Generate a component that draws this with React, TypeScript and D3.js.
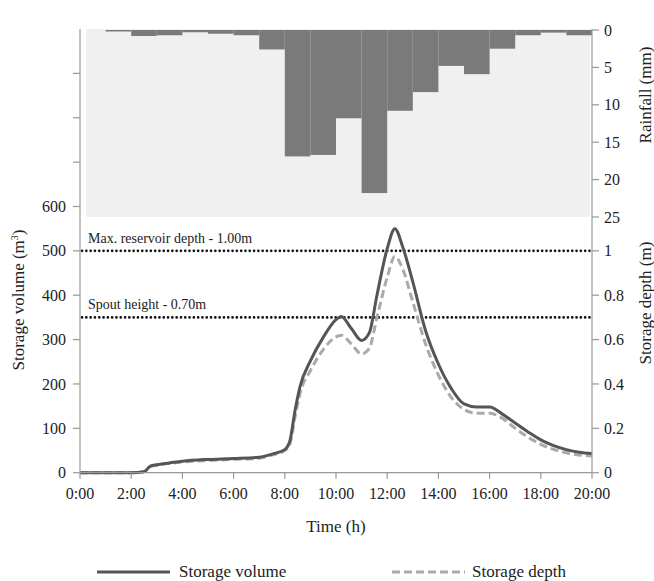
import React from 'react';
import * as d3 from 'd3';

// hourly rainfall (mm), bar i covers hour i..i+1
const rainHours = d3.range(0, 20);
const rainfall = [0, 0.2, 0.8, 0.7, 0.3, 0.5, 0.7, 2.6, 16.9, 16.7, 11.8, 21.8, 10.8, 8.3, 4.8, 5.9, 2.5, 0.7, 0.35, 0.7];

// time (h) of the hydrograph points
const times = [0, 0.5, 1, 1.5, 2, 2.5, 2.75, 3, 3.5, 4, 5, 6, 7, 7.5, 8, 8.2, 8.4, 8.6, 9, 9.5, 10, 10.2, 10.6, 11, 11.3, 11.6, 12, 12.3, 12.6, 13, 13.5, 14, 14.5, 15, 15.5, 16, 16.5, 17, 17.5, 18, 18.5, 19, 19.5, 20];
const volume = [0, 0, 0, 0, 0, 2, 15, 18, 22, 26, 30, 32, 35, 42, 52, 72, 140, 195, 252, 305, 345, 352, 325, 298, 315, 400, 505, 550, 510, 430, 320, 245, 190, 155, 148, 148, 132, 112, 92, 74, 61, 52, 46, 43];
const depth = [0, 0, 0, 0, 0, 0.004, 0.028, 0.034, 0.042, 0.048, 0.055, 0.06, 0.065, 0.08, 0.1, 0.13, 0.25, 0.36, 0.46, 0.555, 0.612, 0.62, 0.58, 0.535, 0.56, 0.7, 0.88, 0.975, 0.92, 0.77, 0.58, 0.44, 0.34, 0.285, 0.268, 0.268, 0.245, 0.2, 0.16, 0.128, 0.105, 0.09, 0.08, 0.075];

const timeTicks = d3.range(0, 21, 2);
const volTicks = [0, 100, 200, 300, 400, 500, 600];
const depthTicks = [0, 0.2, 0.4, 0.6, 0.8, 1];
const rainTicks = [0, 5, 10, 15, 20, 25];
const refLines = [
  { v: 500, label: 'Max. reservoir depth - 1.00m' },
  { v: 350, label: 'Spout height - 0.70m' },
];

const font = "'Liberation Serif', 'DejaVu Serif', serif";

function App() {
  const W = 654, H = 581;
  const left = 80, right = 592, top = 29, bottom = 472.7;
  const x = d3.scaleLinear().domain([0, 20]).range([left, right]);
  const yVol = d3.scaleLinear().domain([0, 1000]).range([bottom, top]);
  const yDepth = d3.scaleLinear().domain([0, 2]).range([bottom, top]);
  const yRain = d3.scaleLinear().domain([0, 25]).range([30, 217]);

  const volLine = d3.line<number>()
    .x((d, i) => x(times[i]))
    .y(d => yVol(d))
    .curve(d3.curveMonotoneX);
  const depthLine = d3.line<number>()
    .x((d, i) => x(times[i]))
    .y(d => yDepth(d))
    .curve(d3.curveMonotoneX);

  return (
    <div>
      <style>{`body{margin:0}`}</style>
      <svg width={W} height={H} style={{ display: 'block', background: '#fff', fontFamily: font }}>
        {/* rainfall panel */}
        <rect x={86} y={top} width={590 - 86} height={217 - top} fill="#f0f0f0" />
        {rainfall.map((r, i) => (
          <rect key={i} x={x(rainHours[i])} y={yRain(0)} width={x(rainHours[i] + 1) - x(rainHours[i])}
            height={yRain(r) - yRain(0)} fill="#7a7a7a" />
        ))}

        {/* reference lines */}
        {refLines.map(l => (
          <g key={l.v}>
            <line x1={left + 2} x2={right} y1={yVol(l.v)} y2={yVol(l.v)} stroke="#111" strokeWidth={2.6}
              strokeDasharray="0.1 4.2" strokeLinecap="round" />
            <text x={88} y={yVol(l.v) - 8} fontSize={14} fill="#222">{l.label}</text>
          </g>
        ))}

        {/* series */}
        <path d={depthLine(depth) || ''} fill="none" stroke="#aaaaaa" strokeWidth={3} strokeDasharray="8 4" />
        <path d={volLine(volume) || ''} fill="none" stroke="#555555" strokeWidth={3} />

        {/* left axis */}
        <line x1={left} x2={left} y1={top} y2={bottom} stroke="#999" strokeWidth={1.2} />
        {d3.range(0, 1000, 100).map(v => (
          <line key={v} x1={left - 7} x2={left} y1={yVol(v)} y2={yVol(v)} stroke="#999" strokeWidth={1.2} />
        ))}
        {volTicks.map(v => (
          <text key={v} x={left - 14} y={yVol(v)} dy="0.35em" textAnchor="end" fontSize={16} fill="#222">{v}</text>
        ))}
        <text transform={`translate(24,${300}) rotate(-90)`} textAnchor="middle" fontSize={17} fill="#222">
          Storage volume (m<tspan dy={-6} fontSize={10}>3</tspan><tspan dy={6}>)</tspan>
        </text>

        {/* right axis */}
        <line x1={right} x2={right} y1={top} y2={bottom} stroke="#999" strokeWidth={1.2} />
        {rainTicks.map(r => (
          <g key={'r' + r}>
            <line x1={right} x2={right + 7} y1={yRain(r)} y2={yRain(r)} stroke="#999" strokeWidth={1.2} />
            <text x={right + 12} y={yRain(r)} dy="0.35em" fontSize={16} fill="#222">{r}</text>
          </g>
        ))}
        {depthTicks.map(d => (
          <g key={'d' + d}>
            <line x1={right} x2={right + 7} y1={yDepth(d)} y2={yDepth(d)} stroke="#999" strokeWidth={1.2} />
            <text x={right + 12} y={yDepth(d)} dy="0.35em" fontSize={16} fill="#222">{d}</text>
          </g>
        ))}
        <text transform={`translate(645,95) rotate(-90)`} textAnchor="middle" dy="0.35em" fontSize={17} fill="#222">Rainfall (mm)</text>
        <text transform={`translate(645,303) rotate(-90)`} textAnchor="middle" dy="0.35em" fontSize={17} fill="#222">Storage depth (m)</text>

        {/* x axis */}
        <line x1={left} x2={right} y1={bottom} y2={bottom} stroke="#999" strokeWidth={1.2} />
        {timeTicks.map(t => (
          <g key={t}>
            <line x1={x(t)} x2={x(t)} y1={bottom} y2={bottom + 6} stroke="#999" strokeWidth={1.2} />
            <text x={x(t)} y={bottom + 26} textAnchor="middle" fontSize={16} fill="#222">{`${t}:00`}</text>
          </g>
        ))}
        <text x={336} y={532} textAnchor="middle" fontSize={17} fill="#222">Time (h)</text>

        {/* legend */}
        <line x1={97} x2={170} y1={572} y2={572} stroke="#555555" strokeWidth={3} />
        <text x={179} y={577} fontSize={17} fill="#222">Storage volume</text>
        <line x1={392} x2={465} y1={572} y2={572} stroke="#aaaaaa" strokeWidth={3} strokeDasharray="8 4" />
        <text x={472} y={577} fontSize={17} fill="#222">Storage depth</text>
      </svg>
    </div>
  );
}

export default App;
